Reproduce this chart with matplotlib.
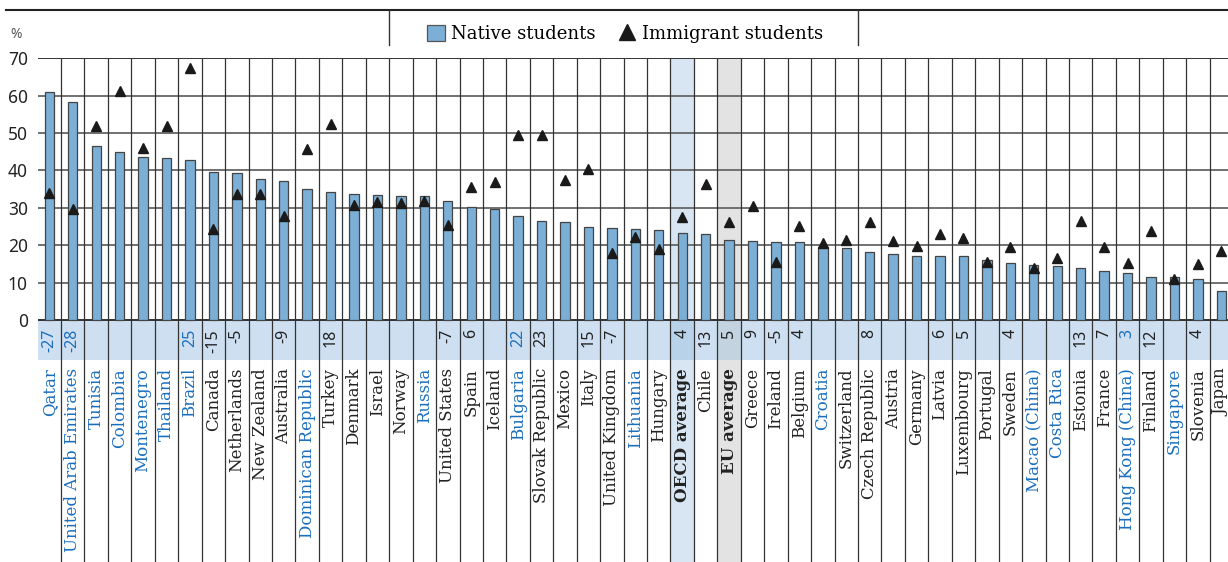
import matplotlib
matplotlib.use('Agg')
import matplotlib.pyplot as plt
from matplotlib.patches import Patch
from matplotlib.lines import Line2D
import numpy as np

countries = ['Qatar', 'United Arab Emirates', 'Tunisia', 'Colombia', 'Montenegro', 'Thailand', 'Brazil',
             'Canada', 'Netherlands', 'New Zealand', 'Australia', 'Dominican Republic', 'Turkey', 'Denmark',
             'Israel', 'Norway', 'Russia', 'United States', 'Spain', 'Iceland', 'Bulgaria', 'Slovak Republic',
             'Mexico', 'Italy', 'United Kingdom', 'Lithuania', 'Hungary', 'OECD average', 'Chile', 'EU average',
             'Greece', 'Ireland', 'Belgium', 'Croatia', 'Switzerland', 'Czech Republic', 'Austria', 'Germany',
             'Latvia', 'Luxembourg', 'Portugal', 'Sweden', 'Macao (China)', 'Costa Rica', 'Estonia', 'France',
             'Hong Kong (China)', 'Finland', 'Singapore', 'Slovenia', 'Japan']
native = [61.1, 58.2, 46.6, 44.8, 43.7, 43.4, 42.8, 39.5, 39.2, 37.8, 37.3, 35.1, 34.1, 33.6, 33.3, 33.2,
          33.2, 31.9, 30.1, 29.8, 27.9, 26.6, 26.2, 24.8, 24.5, 24.4, 24.1, 23.2, 22.9, 21.5, 21.1, 20.9,
          20.8, 19.6, 19.3, 18.1, 17.6, 17.0, 17.0, 17.0, 16.0, 15.3, 14.6, 14.5, 13.8, 13.0, 12.6, 11.6,
          11.4, 10.9, 7.8]
immigrant = [34.0, 29.8, 52.0, 61.3, 46.0, 51.8, 67.5, 24.2, 33.8, 33.8, 27.8, 45.7, 52.5, 30.8, 31.5, 31.4,
             31.8, 25.4, 35.5, 36.8, 49.6, 49.6, 37.5, 40.3, 17.9, 22.1, 18.9, 27.5, 36.3, 26.2, 30.6, 15.5,
             25.2, 20.7, 21.4, 26.1, 21.0, 19.9, 23.1, 22.0, 15.5, 19.6, 14.0, 16.7, 26.6, 19.5, 15.3, 23.9,
             10.9, 14.9, 18.5]
diff = ['-27', '-28', '', '', '', '', '25', '-15', '-5', '', '-9', '', '18', '', '', '', '', '-7', '6', '',
        '22', '23', '', '15', '-7', '', '', '4', '13', '5', '9', '-5', '4', '', '', '8', '', '', '6', '5',
        '', '4', '', '', '13', '7', '3', '12', '', '4', '']
partners = ['Qatar', 'United Arab Emirates', 'Tunisia', 'Colombia', 'Montenegro', 'Thailand', 'Brazil',
            'Dominican Republic', 'Russia', 'Bulgaria', 'Lithuania', 'Croatia', 'Macao (China)', 'Costa Rica',
            'Hong Kong (China)', 'Singapore']
yticks = [0, 10, 20, 30, 40, 50, 60, 70]

W, H = 1228, 562
BAR = '#7bafd6'
BLUE = '#1a6ebd'

fig = plt.figure(figsize=(W / 100, H / 100), dpi=100)

# axes spans from the 70 line down to the bottom of the image
x0, ytop = 37.6, 58.3
ppu = 37.37 / 10  # pixels per unit
ybot = -(H - 320) / ppu
ax = fig.add_axes([x0 / W, 0, (W - x0) / W, (H - ytop) / H])
n = len(countries)
colw = 23.44
ax.set_xlim(-0.5, -0.5 + (W - x0) / colw)
ax.set_ylim(ybot, 70)
for s in ax.spines.values():
    s.set_visible(False)

band = -40 / ppu
x = np.arange(n)
oecd = countries.index('OECD average')
eu = countries.index('EU average')

ax.axhspan(band, 0, color='#cddff0', zorder=0, lw=0)
ax.fill_between([oecd - 0.5, oecd + 0.5], ybot, 70, color='#d7e6f2', lw=0, zorder=0.5)
ax.fill_between([oecd - 0.5, oecd + 0.5], band, 0, color='#b8d3e9', lw=0, zorder=0.6)
ax.fill_between([eu - 0.5, eu + 0.5], ybot, 70, color='#e3e3e3', lw=0, zorder=0.5)
ax.fill_between([eu - 0.5, eu + 0.5], band, 0, color='#c3d3e0', lw=0, zorder=0.6)

for t in yticks[1:]:
    ax.axhline(t, color='#222222' if t == 70 else '#666666', lw=1.3, zorder=1)
ax.axhline(0, color='#222222', lw=1.3, zorder=1)
for k in range(n):
    ax.vlines(k + 0.5, ybot, 70, color='#333333', lw=0.9, zorder=1)

ax.bar(x, native, width=0.4, color=BAR, edgecolor='#444444', lw=0.9, zorder=2)
ax.plot(x, immigrant, linestyle='none', marker='^', color='#1a1a1a', markersize=7.5, zorder=3)

ax.set_yticks(yticks)
ax.set_yticklabels([str(t) for t in yticks], fontsize=12.5, family='Noto Sans', color='#222222')
ax.tick_params(axis='y', length=0, pad=7)
ax.set_xticks([])

for i, name in enumerate(countries):
    bold = name in ('OECD average', 'EU average')
    col = BLUE if name in partners else '#222222'
    ax.text(i, -(368 - 320) / ppu, name, rotation=90, ha='center', va='top', color=col,
            fontsize=12, family='DejaVu Serif', fontweight='bold' if bold else 'normal')
    if diff[i]:
        ax.text(i, -(329 - 320) / ppu, diff[i], rotation=90, ha='center', va='top', color=col,
                fontsize=11.5, family='Noto Sans', fontweight='bold' if bold else 'normal')

fig.text(10 / W, 1 - 35 / H, '%', fontsize=10, color='#555555', family='Noto Sans', va='center')

# header frame
fig.add_artist(Line2D([6 / W, 1], [1 - 9.5 / H, 1 - 9.5 / H], color='#222222', lw=1.5))
for xv in (389.5, 857.5):
    fig.add_artist(Line2D([xv / W, xv / W], [1 - 9.5 / H, 1 - 44.5 / H], color='#333333', lw=1))

handles = [Patch(facecolor=BAR, edgecolor='#555555', lw=0.9),
           Line2D([], [], linestyle='none', marker='^', color='#1a1a1a', markersize=12)]
leg = fig.legend(handles, ['Native students', 'Immigrant students'], loc='center', ncol=2,
                 bbox_to_anchor=(625 / W, 1 - 34 / H), frameon=False,
                 prop={'family': 'DejaVu Serif', 'size': 13}, handlelength=1.0, handleheight=1.0,
                 handletextpad=0.35, columnspacing=1.2)

fig.savefig('out.png', dpi=100)
